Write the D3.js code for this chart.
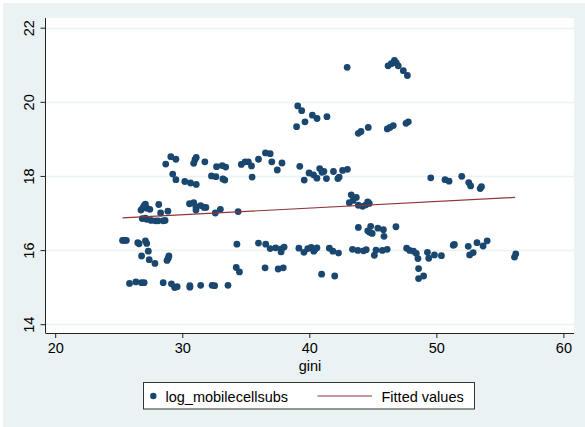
<!DOCTYPE html>
<html>
<head>
<meta charset="utf-8">
<script src="https://cdn.jsdelivr.net/npm/d3@7"></script>
<style>
  html, body { margin: 0; padding: 0; background: #ffffff; }
  svg { display: block; font-family: "Liberation Sans", Arial, Helvetica, sans-serif; }
</style>
</head>
<body>
<svg id="chart" width="585" height="427"></svg>
<script>
// ---- data ----
const gini = [
  // left, y~16.2 / 15.x
  25.3, 25.45, 25.6, 26.5, 26.6, 27.1, 27.2, 27.33, 26.8, 27.4, 27.85, 28.8, 28.95, 28.9,
  // bottom row y~15
  25.85, 26.35, 26.8, 27.0, 28.5, 29.15, 29.4, 29.6, 30.6, 30.6, 31.45, 32.35, 32.55, 33.6,
  // left 17 band
  26.75, 26.9, 27.1, 27.2, 27.0, 27.45, 28.15, 28.3, 28.87, 26.85, 27.1, 27.2, 27.55, 27.9, 28.1, 28.5, 28.65,
  // 30-34, 17 band
  30.57, 30.9, 31.07, 31.08, 31.45, 31.72, 31.86, 32.6, 33.0, 34.4,
  // 18 band left
  28.7, 29.1, 29.5, 29.25, 29.5, 30.2, 30.65, 31.1, 30.9, 31.0, 31.1, 31.78, 32.3, 32.65, 33.2, 33.35,
  32.7, 33.15, 33.42, 34.65, 34.95, 35.2, 35.45, 35.5, 36.0, 36.55, 36.92, 37.05, 37.48, 37.85,
  // 18 band middle
  39.25, 39.6, 39.98, 40.33, 40.6, 40.82, 41.0, 41.15, 41.35, 41.9, 42.25, 42.35, 42.62, 43.0,
  // 18 band right
  49.56, 50.68, 51.0, 52.0, 52.55, 52.7, 53.45, 53.55,
  // 17.2-17.5 right
  43.3, 43.7, 43.15, 43.45, 43.86, 44.2, 44.6, 44.72, 44.45,
  // 16.5 cluster
  43.86, 44.6, 44.83, 44.95, 45.4, 45.83, 45.88, 46.82, 44.75,
  // around 34.4
  34.3, 34.25, 34.5,
  // 16 band middle
  36.0, 36.57, 36.92, 37.35, 37.8, 38.02, 37.78, 36.52, 37.55, 37.95, 39.18, 39.58, 39.88, 40.15, 40.35,
  40.6, 40.97, 41.58, 41.85, 42.3, 42.0, 40.45,
  // 16 band right
  43.4, 43.82, 44.27, 44.48, 45.12, 45.25, 45.75, 46.13, 47.66, 47.9, 48.2, 48.42, 48.55, 48.6, 48.6,
  49.0, 49.3, 49.4, 49.85, 50.4, 51.33, 51.42, 52.51, 52.62, 52.9, 53.2, 53.68, 54.0, 56.15, 56.25,
  // 19-20
  39.09, 39.4, 39.0, 39.66, 40.24, 40.61, 41.39, 43.86, 44.07, 44.64, 46.14, 46.35, 46.61, 47.61, 47.79,
  // ~21
  42.98, 46.2, 46.45, 46.7, 46.85, 47.0, 47.4, 47.72
];
const logMobileCellSubs = [
  16.26, 16.26, 16.26, 16.2, 16.17, 16.25, 16.18, 15.97, 15.84, 15.74, 15.64, 15.72, 15.84, 15.78,
  15.1, 15.14, 15.12, 15.12, 15.12, 15.09, 14.99, 15.01, 15.0, 15.04, 15.05, 15.05, 15.04, 15.05,
  17.08, 17.14, 17.24, 17.13, 17.2, 17.1, 17.23, 17.0, 17.05, 16.85, 16.86, 16.83, 16.8, 16.79, 16.79, 16.79, 16.8,
  17.25, 17.28, 17.17, 17.08, 17.2, 17.15, 17.15, 17.0, 17.1, 17.04,
  18.32, 18.52, 18.45, 18.05, 17.9, 17.85, 17.81, 17.77, 18.34, 18.44, 18.5, 18.38, 18.0, 17.98, 17.92, 17.89,
  18.25, 18.28, 18.24, 18.31, 18.38, 18.38, 18.27, 17.97, 18.45, 18.62, 18.6, 18.38, 18.16, 18.35,
  18.26, 17.89, 18.08, 18.03, 17.94, 18.2, 18.1, 18.12, 17.93, 18.12, 17.93, 17.97, 18.15, 18.18,
  17.95, 17.9, 17.86, 17.99, 17.82, 17.73, 17.66, 17.71,
  17.49, 17.42, 17.28, 17.34, 17.21, 17.18, 17.3, 17.26, 17.22,
  16.61, 16.52, 16.64, 16.45, 16.59, 16.55, 16.37, 16.63, 16.48,
  16.16, 15.53, 15.41,
  16.19, 16.16, 16.04, 16.06, 16.03, 16.08, 15.95, 15.52, 15.49, 15.52, 16.05, 15.94, 16.04, 16.07, 15.97,
  16.06, 15.35, 16.05, 15.97, 15.92, 15.30, 16.02,
  16.02, 15.99, 15.98, 16.01, 15.86, 16.0, 15.99, 16.02, 16.05, 15.99, 15.97, 15.91, 15.77, 15.5, 15.23,
  15.3, 15.94, 15.78, 15.87, 15.85, 16.13, 16.15, 16.1, 15.87, 15.93, 16.2, 16.11, 16.25, 15.81, 15.9,
  19.89, 19.76, 19.33, 19.46, 19.64, 19.55, 19.6, 19.15, 19.2, 19.31, 19.27, 19.31, 19.36, 19.42, 19.46,
  20.93, 20.97, 21.03, 21.12, 21.05, 20.97, 20.84, 20.71
];
const fittedGini = [25.3, 56.2];
const fittedValues = [16.87, 17.42];
const xTicks = [20, 30, 40, 50, 60];
const yTicks = [14, 16, 18, 20, 22];
const xTitle = "gini";
const legendLabels = ["log_mobilecellsubs", "Fitted values"];

// ---- styling ----
const navy = "#1a476f", maroon = "#90353b", bg = "#eaf2f3", grid = "#eaf2f3";
const fontSize = 14.5;

const svg = d3.select("#chart");
// outer graph region
svg.append("rect").attr("x", 0).attr("y", 0).attr("width", 585).attr("height", 427).attr("fill", "#ffffff");
svg.append("rect").attr("x", 3).attr("y", 3).attr("width", 582).attr("height", 424).attr("fill", bg);

const plot = { left: 46, right: 574, top: 18, bottom: 333 };
svg.append("rect").attr("x", plot.left).attr("y", plot.top)
  .attr("width", plot.right - plot.left).attr("height", plot.bottom - plot.top).attr("fill", "#ffffff");

const x = d3.scaleLinear().domain([20, 60]).range([55.2, 563.4]);
const y = d3.scaleLinear().domain([14, 22]).range([324.2, 27.7]);

// gridlines
svg.append("g").selectAll("line").data(yTicks).join("line")
  .attr("x1", plot.left).attr("x2", plot.right)
  .attr("y1", d => Math.round(y(d)) + 0.5).attr("y2", d => Math.round(y(d)) + 0.5)
  .attr("stroke", grid).attr("stroke-width", 1.3);

// points
const pts = gini.map((g, i) => [g, logMobileCellSubs[i]]);
svg.append("g").selectAll("circle").data(pts).join("circle")
  .attr("cx", d => x(d[0])).attr("cy", d => y(d[1])).attr("r", 3.4)
  .attr("fill", navy);

// fitted line
svg.append("path")
  .datum(fittedGini.map((g, i) => [g, fittedValues[i]]))
  .attr("d", d3.line().x(d => x(d[0])).y(d => y(d[1])))
  .attr("stroke", maroon).attr("stroke-width", 1.2).attr("fill", "none");

// axes
const xAxis = d3.axisBottom(x).tickValues(xTicks).tickSize(5).tickPadding(5).tickFormat(d3.format("d"));
const gx = svg.append("g").attr("transform", `translate(0,${plot.bottom})`).call(xAxis);
gx.select(".domain").remove();
gx.append("line").attr("x1", plot.left).attr("x2", plot.right).attr("y1", 0.5).attr("y2", 0.5).attr("stroke", "#222");
gx.selectAll(".tick line").attr("stroke", "#222");
gx.selectAll(".tick text").attr("font-size", fontSize).attr("fill", "#000")
  .attr("font-family", "Liberation Sans, Arial, sans-serif").attr("dy", "0.71em");

const yAxis = d3.axisLeft(y).tickValues(yTicks).tickSize(5.5).tickFormat(d3.format("d"));
const gy = svg.append("g").attr("transform", `translate(${plot.left},0)`).call(yAxis);
gy.select(".domain").remove();
gy.append("line").attr("x1", -0.5).attr("x2", -0.5).attr("y1", plot.top).attr("y2", plot.bottom + 0.5).attr("stroke", "#222");
gy.selectAll(".tick line").attr("stroke", "#222");
gy.selectAll(".tick text")
  .attr("font-size", fontSize).attr("fill", "#000")
  .attr("font-family", "Liberation Sans, Arial, sans-serif")
  .attr("x", null).attr("dy", null)
  .attr("text-anchor", "middle")
  .attr("transform", "translate(-12.5,0) rotate(-90)");

// x title
svg.append("text").attr("x", (plot.left + plot.right) / 2).attr("y", 371)
  .attr("text-anchor", "middle").attr("font-size", fontSize).attr("fill", "#000").text(xTitle);

// legend
const lg = svg.append("g");
lg.append("rect").attr("x", 143.5).attr("y", 382.5).attr("width", 331).attr("height", 26.5)
  .attr("fill", "#ffffff").attr("stroke", "#333").attr("stroke-width", 1);
lg.append("circle").attr("cx", 153.3).attr("cy", 396).attr("r", 3.2).attr("fill", navy);
lg.append("text").attr("x", 165.5).attr("y", 401.5).attr("font-size", fontSize).attr("fill", "#000").text(legendLabels[0]);
lg.append("line").attr("x1", 317.5).attr("x2", 372).attr("y1", 396).attr("y2", 396)
  .attr("stroke", maroon).attr("stroke-width", 1.2);
lg.append("text").attr("x", 381.5).attr("y", 401.5).attr("font-size", fontSize).attr("fill", "#000").text(legendLabels[1]);
</script>
</body>
</html>
